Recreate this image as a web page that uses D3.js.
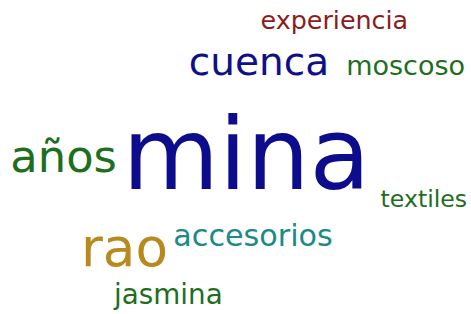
<!DOCTYPE html>
<html>
<head>
<meta charset="utf-8">
<script src="https://cdn.jsdelivr.net/npm/d3@7"></script>
<style>
  html, body { margin: 0; padding: 0; background: #fff; }
  svg { display: block; }
</style>
</head>
<body>
<svg id="chart" width="471" height="314"></svg>
<script>
// Words of the cloud and their weights (frequency)
const words = ["mina", "rao", "años", "cuenca", "accesorios", "jasmina", "experiencia", "moscoso", "textiles"];
const weights = [49.6, 26.6, 22.4, 19.5, 15.1, 13.9, 12.7, 13.5, 11.8];
const colors = ["#0c0c8c", "#b8891c", "#1e6e1e", "#0f0f8a", "#1c8a87", "#1e6e1e", "#8b1c1c", "#1e6e1e", "#1e6e1e"];
// Layout placement (fractions of the canvas), left edge and baseline
const placeX = [0.260, 0.172, 0.022, 0.401, 0.368, 0.242, 0.553, 0.735, 0.808];
const placeY = [0.601, 0.847, 0.547, 0.238, 0.783, 0.968, 0.092, 0.239, 0.659];

const W = 471, H = 314;
const svg = d3.select("#chart");
const size = d3.scaleLinear().domain([0, 48]).range([0, 96]);
const x = d3.scaleLinear().domain([0, 1]).range([0, W]);
const y = d3.scaleLinear().domain([0, 1]).range([0, H]);

const data = words.map((w, i) => ({ text: w, weight: weights[i], color: colors[i], px: placeX[i], py: placeY[i] }));

svg.selectAll("text")
  .data(data)
  .join("text")
  .attr("x", d => x(d.px))
  .attr("y", d => y(d.py))
  .attr("font-family", "Verdana, 'DejaVu Sans', sans-serif")
  .attr("font-size", d => size(d.weight))
  .attr("fill", d => d.color)
  .text(d => d.text);
</script>
</body>
</html>
